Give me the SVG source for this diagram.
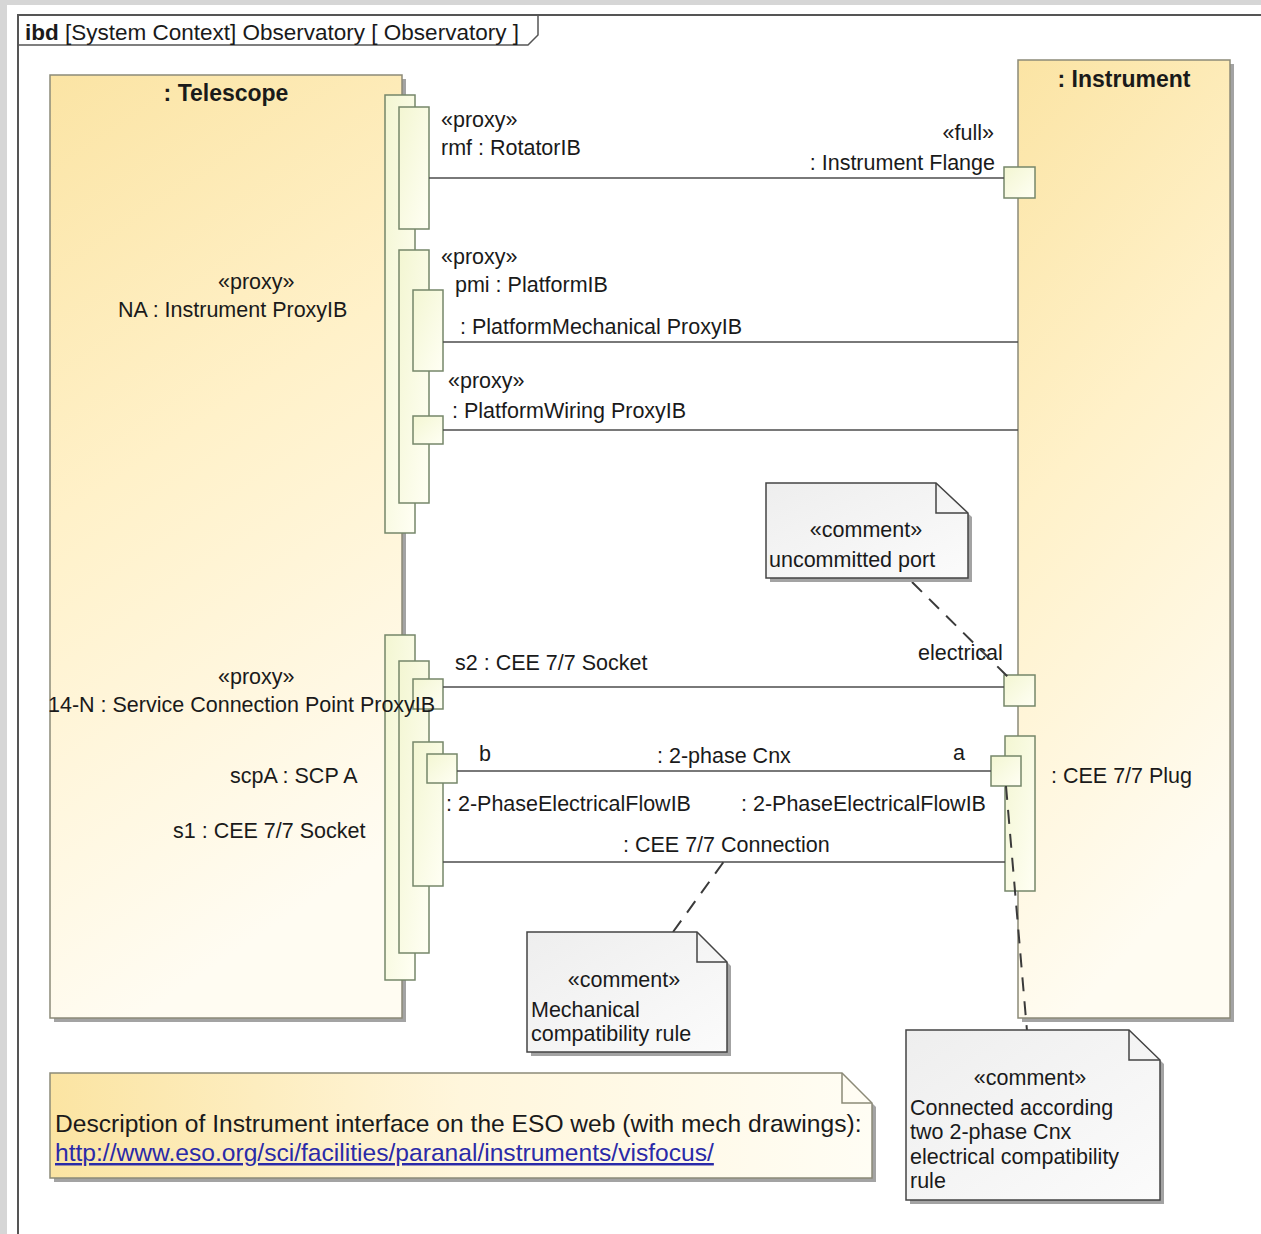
<svg xmlns="http://www.w3.org/2000/svg" width="1261" height="1234" viewBox="0 0 1261 1234">
  <defs>
    <linearGradient id="blockFill" x1="0" y1="0" x2="0.25" y2="1">
      <stop offset="0" stop-color="#fbe4a4"/>
      <stop offset="0.45" stop-color="#fff1c9"/>
      <stop offset="1" stop-color="#fffcf2"/>
    </linearGradient>
    <linearGradient id="portFill" x1="0" y1="0" x2="1" y2="1">
      <stop offset="0" stop-color="#f3f6d2"/>
      <stop offset="1" stop-color="#fffff4"/>
    </linearGradient>
    <linearGradient id="noteFill" x1="0" y1="0" x2="1" y2="1">
      <stop offset="0" stop-color="#eeeeee"/>
      <stop offset="1" stop-color="#fbfbfb"/>
    </linearGradient>
    <linearGradient id="descFill" x1="0" y1="0" x2="1" y2="0">
      <stop offset="0" stop-color="#fbe4a2"/>
      <stop offset="0.5" stop-color="#fff6dc"/>
      <stop offset="1" stop-color="#fffdf4"/>
    </linearGradient>
  </defs>
  <style>
    text { font-family: "Liberation Sans", Arial, sans-serif; font-size: 21.5px; fill: #1a1a1a; }
    .title { font-weight: bold; font-size: 23px; }
    .header { font-size: 22.5px; }
    .mid { text-anchor: middle; }
    .end { text-anchor: end; }
    .block { fill: url(#blockFill); stroke: #8c8a78; stroke-width: 1.5; }
    .shadow { fill: #a3a3a3; }
    .port { fill: url(#portFill); stroke: #76876a; stroke-width: 1.5; }
    .conn { fill: none; stroke: #4d4d4d; stroke-width: 1.6; }
    .anchor { fill: none; stroke: #3a3a3a; stroke-width: 2; stroke-dasharray: 14 10; }
    .note { fill: url(#noteFill); stroke: #444; stroke-width: 1.5; }
    .fold { fill: none; stroke: #444; stroke-width: 1.5; }
    .desc { font-size: 24.6px; }
    .link { fill: #2a2aa8; text-decoration: underline; }
  </style>

  <!-- window background and diagram frame -->
  <rect x="0" y="0" width="1261" height="1234" fill="#d6d6d6"/>
  <rect x="7" y="5" width="1254" height="1229" fill="#ffffff"/>
  <g id="frame">
    <path d="M18 1234 V15 H1261" fill="none" stroke="#555" stroke-width="2"/>
    <path d="M18 45 H528 L538 35 V15" fill="none" stroke="#555" stroke-width="1.5"/>
    <text class="header" x="25" y="40"><tspan font-weight="bold">ibd</tspan> [System Context] Observatory [ Observatory ]</text>
  </g>

  <!-- Telescope part -->
  <g id="telescope">
    <rect class="shadow" x="54" y="79" width="352" height="943"/>
    <rect class="block" x="50" y="75" width="352" height="943"/>
    <text class="title mid" x="226" y="101">: Telescope</text>
    <text x="218" y="289">«proxy»</text>
    <text x="118" y="317">NA : Instrument ProxyIB</text>
    <text x="230" y="783">scpA : SCP A</text>
    <text x="173" y="838">s1 : CEE 7/7 Socket</text>
  </g>

  <!-- Instrument part -->
  <g id="instrument">
    <rect class="shadow" x="1022" y="64" width="212" height="958"/>
    <rect class="block" x="1018" y="60" width="212" height="958"/>
    <text class="title mid" x="1124" y="87">: Instrument</text>
    <text x="1051" y="783">: CEE 7/7 Plug</text>
  </g>

  <!-- Telescope upper port stack -->
  <g id="port-NA">
    <rect class="port" x="385" y="95" width="30" height="438"/>
  </g>
  <g id="port-rmf">
    <rect class="port" x="399" y="107" width="30" height="122"/>
    <text x="441" y="127">«proxy»</text>
    <text x="441" y="155">rmf : RotatorIB</text>
  </g>
  <g id="port-pmi">
    <rect class="port" x="399" y="250" width="30" height="253"/>
    <text x="441" y="264">«proxy»</text>
    <text x="455" y="292">pmi : PlatformIB</text>
  </g>
  <g id="port-mechanical">
    <rect class="port" x="413" y="290" width="30" height="81"/>
    <text x="460" y="334">: PlatformMechanical ProxyIB</text>
  </g>
  <g id="port-wiring">
    <rect class="port" x="413" y="416" width="30" height="28"/>
    <text x="448" y="388">«proxy»</text>
    <text x="452" y="418">: PlatformWiring ProxyIB</text>
  </g>

  <!-- Telescope lower port stack -->
  <g id="port-14N">
    <rect class="port" x="385" y="635" width="30" height="345"/>
  </g>
  <g id="port-scpA">
    <rect class="port" x="399" y="661" width="30" height="292"/>
  </g>
  <g id="port-s2">
    <rect class="port" x="413" y="679" width="30" height="30"/>
    <text x="455" y="670">s2 : CEE 7/7 Socket</text>
  </g>
  <g id="port-s1">
    <rect class="port" x="413" y="742" width="30" height="144"/>
  </g>
  <g id="port-b">
    <rect class="port" x="427" y="754" width="30" height="29"/>
    <text x="479" y="761">b</text>
  </g>
  <!-- this label runs across the port stack, so it sits above it -->
  <g id="label-14N">
    <text x="218" y="684">«proxy»</text>
    <text x="48" y="712">14-N : Service Connection Point ProxyIB</text>
  </g>

  <!-- Instrument ports -->
  <g id="port-flange">
    <rect class="port" x="1004" y="167" width="31" height="31"/>
    <text class="end" x="994" y="140">«full»</text>
    <text class="end" x="995" y="170">: Instrument Flange</text>
  </g>
  <g id="port-electrical">
    <rect class="port" x="1004" y="675" width="31" height="31"/>
    <text x="918" y="660">electrical</text>
  </g>
  <g id="port-plug">
    <rect class="port" x="1005" y="736" width="30" height="155"/>
  </g>
  <g id="port-a">
    <rect class="port" x="991" y="756" width="30" height="30"/>
    <text x="953" y="760">a</text>
  </g>

  <!-- Connectors -->
  <g id="connectors">
    <line class="conn" x1="429" y1="178" x2="1004" y2="178"/>
    <line class="conn" x1="443" y1="342" x2="1018" y2="342"/>
    <line class="conn" x1="443" y1="430" x2="1018" y2="430"/>
    <line class="conn" x1="443" y1="687" x2="1004" y2="687"/>
    <line class="conn" x1="457" y1="771" x2="991" y2="771"/>
    <line class="conn" x1="443" y1="862" x2="1005" y2="862"/>
    <text x="657" y="763">: 2-phase Cnx</text>
    <text x="446" y="811">: 2-PhaseElectricalFlowIB</text>
    <text x="741" y="811">: 2-PhaseElectricalFlowIB</text>
    <text x="623" y="852">: CEE 7/7 Connection</text>
    <!-- comment anchors -->
    <line class="anchor" x1="912" y1="582" x2="1008" y2="677"/>
    <line class="anchor" x1="673" y1="932" x2="725" y2="860"/>
    <line class="anchor" x1="1006" y1="786" x2="1027" y2="1031"/>
  </g>

  <!-- Comments -->
  <g id="note-uncommitted">
    <path class="shadow" d="M770 487 H938 L972 517 V582 H770 Z"/>
    <path class="note" d="M766 483 H936 L968 513 V578 H766 Z"/>
    <path class="fold" d="M936 483 V513 H968"/>
    <text class="mid" x="866" y="537">«comment»</text>
    <text x="769" y="567">uncommitted port</text>
  </g>
  <g id="note-mechanical">
    <path class="shadow" d="M531 936 H701 L731 966 V1056 H531 Z"/>
    <path class="note" d="M527 932 H697 L727 962 V1052 H527 Z"/>
    <path class="fold" d="M697 932 V962 H727"/>
    <text class="mid" x="624" y="987">«comment»</text>
    <text x="531" y="1017">Mechanical</text>
    <text x="531" y="1041">compatibility rule</text>
  </g>
  <g id="note-electrical">
    <path class="shadow" d="M910 1034 H1133 L1164 1064 V1204 H910 Z"/>
    <path class="note" d="M906 1030 H1129 L1160 1060 V1200 H906 Z"/>
    <path class="fold" d="M1129 1030 V1060 H1160"/>
    <text class="mid" x="1030" y="1085">«comment»</text>
    <text x="910" y="1115">Connected according</text>
    <text x="910" y="1139">two 2-phase Cnx</text>
    <text x="910" y="1164">electrical compatibility</text>
    <text x="910" y="1188">rule</text>
  </g>
  <g id="note-description">
    <path class="shadow" d="M54 1077 H846 L876 1107 V1182 H54 Z"/>
    <path class="note" style="fill:url(#descFill);stroke:#8c8a78" d="M50 1073 H842 L872 1103 V1178 H50 Z"/>
    <path class="fold" style="stroke:#8c8a78" d="M842 1073 V1103 H872"/>
    <text class="desc" x="55" y="1132">Description of Instrument interface on the ESO web (with mech drawings):</text>
    <text class="desc link" x="55" y="1161">http://www.eso.org/sci/facilities/paranal/instruments/visfocus/</text>
  </g>
</svg>
